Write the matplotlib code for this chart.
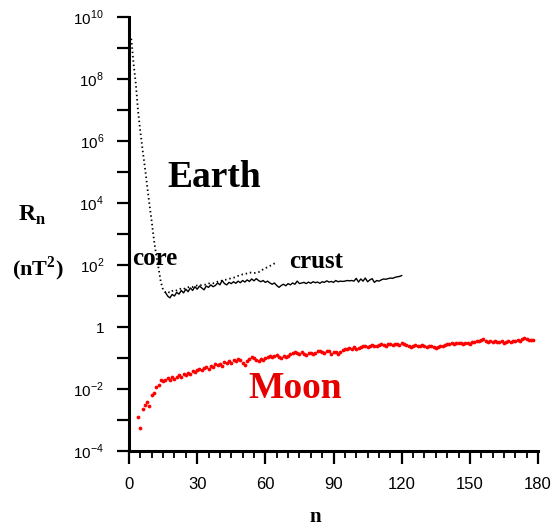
#!/usr/bin/env python3

import numpy as np
import matplotlib
matplotlib.use('Agg')
import matplotlib.pyplot as plt
from matplotlib.ticker import MultipleLocator, NullLocator, FixedLocator

# log10(Rn) values
core_n = list(range(1, 66))
core_log = [9.30, 8.50, 7.85, 6.95, 6.30, 5.70, 5.15, 4.55, 3.95, 3.40,
            2.80, 2.30, 1.90, 1.45, 1.20, 1.12, 1.15, 1.10, 1.16, 1.20,
            1.18, 1.22, 1.24, 1.22, 1.27, 1.28, 1.30, 1.29, 1.32, 1.34,
            1.33, 1.36, 1.37, 1.36, 1.40, 1.42, 1.41, 1.44, 1.46, 1.47,
            1.50, 1.52, 1.53, 1.55, 1.58, 1.59, 1.62, 1.65, 1.66, 1.70,
            1.71, 1.73, 1.76, 1.75, 1.74, 1.75, 1.77, 1.80, 1.86, 1.90,
            1.93, 1.97, 2.01, 2.05, 2.08]

crust_n = list(range(16, 121))
crust_log = [1.12, 1.00, 0.94, 1.05, 1.00, 1.12, 1.06, 1.18, 1.10, 1.22,
             1.14, 1.26, 1.18, 1.30, 1.22, 1.32, 1.26, 1.20, 1.32, 1.28,
             1.36, 1.30, 1.34, 1.42, 1.36, 1.50, 1.40, 1.36, 1.44, 1.40,
             1.46, 1.41, 1.48, 1.43, 1.50, 1.45, 1.52, 1.47, 1.55, 1.49,
             1.56, 1.50, 1.46, 1.50, 1.44, 1.48, 1.42, 1.38, 1.42, 1.34,
             1.28, 1.34, 1.38, 1.33, 1.40, 1.36, 1.42, 1.38, 1.48, 1.40,
             1.42, 1.44, 1.40, 1.45, 1.41, 1.46, 1.43, 1.45, 1.41, 1.46,
             1.44, 1.49, 1.45, 1.47, 1.44, 1.50, 1.46, 1.48, 1.47, 1.48,
             1.50, 1.49, 1.50, 1.48, 1.57, 1.45, 1.55, 1.48, 1.58, 1.46,
             1.52, 1.56, 1.44, 1.50, 1.48, 1.52, 1.55, 1.54, 1.56, 1.58,
             1.57, 1.60, 1.62, 1.63, 1.66]

moon_n = list(range(4, 179))
moon_log = [-2.89, -3.27, -2.66, -2.50, -2.42, -2.55, -2.20, -2.14, -1.93, -1.88,
            -1.70, -1.74, -1.72, -1.66, -1.70, -1.62, -1.67, -1.60, -1.56, -1.62,
            -1.52, -1.55, -1.47, -1.50, -1.43, -1.46, -1.38, -1.35, -1.40, -1.32,
            -1.30, -1.36, -1.25, -1.30, -1.20, -1.24, -1.18, -1.26, -1.13, -1.17,
            -1.10, -1.15, -1.05, -1.10, -1.02, -1.08, -1.16, -1.22, -1.10, -1.02,
            -0.98, -1.00, -1.06, -1.10, -1.04, -1.06, -1.00, -0.96, -0.93, -0.98,
            -0.92, -0.90, -0.96, -1.00, -0.95, -0.97, -0.92, -0.88, -0.84, -0.80,
            -0.84, -0.86, -0.82, -0.88, -0.90, -0.85, -0.83, -0.87, -0.84, -0.78,
            -0.76, -0.80, -0.83, -0.78, -0.76, -0.86, -0.80, -0.82, -0.86, -0.80,
            -0.74, -0.70, -0.72, -0.68, -0.70, -0.66, -0.70, -0.68, -0.64, -0.61,
            -0.62, -0.66, -0.60, -0.58, -0.60, -0.62, -0.58, -0.55, -0.58, -0.60,
            -0.56, -0.55, -0.58, -0.56, -0.55, -0.57, -0.53, -0.56, -0.58, -0.60,
            -0.64, -0.60, -0.58, -0.62, -0.60, -0.57, -0.62, -0.66, -0.62, -0.60,
            -0.64, -0.68, -0.64, -0.60, -0.62, -0.58, -0.56, -0.54, -0.52, -0.55,
            -0.52, -0.50, -0.53, -0.55, -0.50, -0.52, -0.55, -0.49, -0.48, -0.46,
            -0.44, -0.42, -0.40, -0.44, -0.47, -0.45, -0.48, -0.46, -0.49, -0.47,
            -0.46, -0.50, -0.48, -0.46, -0.48, -0.44, -0.45, -0.42, -0.45, -0.40,
            -0.37, -0.39, -0.42, -0.41, -0.43]

ytick_exp = list(range(-4, 11))
xtick_vals = [0, 30, 60, 90, 120, 150, 180]


def ylab(k):
    if k % 2:
        return ''
    if k == 0:
        return '1'
    return r'$\mathrm{10}^{\mathrm{%d}}$' % k


def main():
    plt.rcParams['font.family'] = 'Liberation Sans'
    plt.rcParams['mathtext.fontset'] = 'custom'
    plt.rcParams['mathtext.rm'] = 'Liberation Sans'
    plt.rcParams['mathtext.bf'] = 'Liberation Serif:bold'

    fig = plt.figure(figsize=(5.52, 5.27), dpi=100)
    ax = fig.add_axes([0.2337, 0.1442, 0.741, 0.8235])

    ax.plot(core_n, 10.0 ** np.array(core_log), color='black', lw=1.3,
            linestyle=(0, (0.8, 1.6)))
    ax.plot(crust_n, 10.0 ** np.array(crust_log), color='black', lw=1.0)
    ax.plot(moon_n, 10.0 ** np.array(moon_log), linestyle='none', marker='o',
            ms=2.7, mew=0, color='red')

    ax.set_yscale('log')
    ax.set_xlim(0, 180)
    ax.set_ylim(1e-4, 1e10)

    ax.yaxis.set_major_locator(FixedLocator([10.0 ** k for k in ytick_exp]))
    ax.yaxis.set_minor_locator(NullLocator())
    ax.set_yticklabels([ylab(k) for k in ytick_exp])
    ax.set_xticks(xtick_vals)
    ax.xaxis.set_minor_locator(MultipleLocator(5))

    for s in ['top', 'right']:
        ax.spines[s].set_visible(False)
    for s in ['left', 'bottom']:
        ax.spines[s].set_linewidth(2.2)
    ax.tick_params(axis='y', which='major', length=9, width=1.6, pad=9,
                   labelsize=11)
    ax.tick_params(axis='x', which='major', length=9, width=1.6, pad=10,
                   labelsize=12)
    ax.tick_params(axis='x', which='minor', length=5, width=1.3)

    serif = dict(family='Liberation Serif', weight='bold')
    ax.text(0.208, 0.631, 'Earth', transform=ax.transAxes, ha='center',
            va='center', fontsize=27, **serif)
    ax.text(0.064, 0.444, 'core', transform=ax.transAxes, ha='center',
            va='center', fontsize=18, **serif)
    ax.text(0.457, 0.437, 'crust', transform=ax.transAxes, ha='center',
            va='center', fontsize=18, **serif)
    ax.text(0.406, 0.143, 'Moon', transform=ax.transAxes, ha='center',
            va='center', fontsize=27, color='#e60000', **serif)

    fig.text(0.058, 0.592, r'$\mathbf{R}_{\mathbf{n}}$', ha='center',
             va='center', fontsize=17)
    fig.text(0.068, 0.49, r'$\mathbf{(nT}^{\mathbf{2}}\mathbf{)}$',
             ha='center', va='center', fontsize=16)
    fig.text(0.571, 0.019, 'n', ha='center', va='center', fontsize=15,
             **serif)

    plt.savefig('out.png', dpi=100)


if __name__ == "__main__":
    main()
